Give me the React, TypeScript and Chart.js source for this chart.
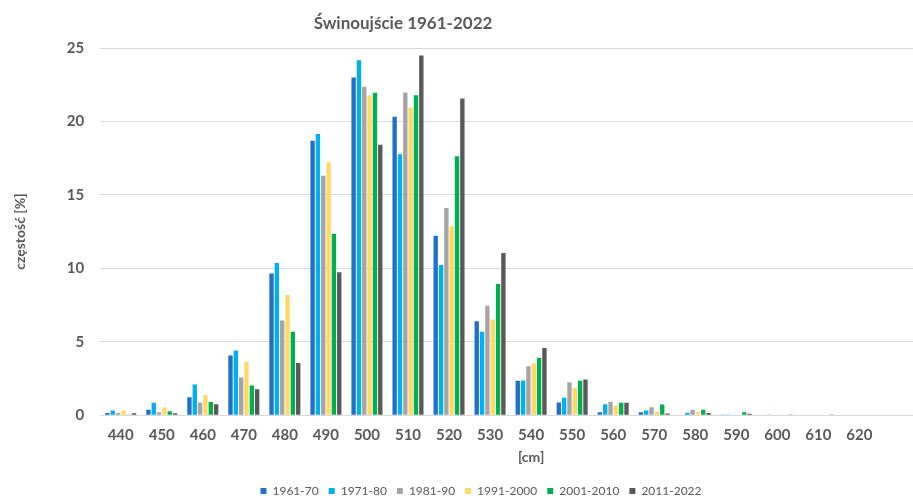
import React, { useEffect, useRef } from "react";
import { Chart, registerables } from "chart.js";

Chart.register(...registerables);

const categories = ["440", "450", "460", "470", "480", "490", "500", "510", "520", "530", "540", "550", "560", "570", "580", "590", "600", "610", "620", "", ""];

const s1961_70 = [0.15, 0.37, 1.22, 4.06, 9.65, 18.68, 23.0, 20.32, 12.22, 6.4, 2.35, 0.86, 0.2, 0.2, 0.03, 0.05, 0.0, 0.0, 0.0, null, null];
const s1971_80 = [0.32, 0.84, 2.09, 4.4, 10.37, 19.14, 24.16, 17.77, 10.22, 5.68, 2.37, 1.18, 0.75, 0.32, 0.16, 0.05, 0.05, 0.0, 0.0, null, null];
const s1981_90 = [0.15, 0.2, 0.86, 2.57, 6.45, 16.3, 22.37, 21.97, 14.1, 7.45, 3.33, 2.24, 0.91, 0.54, 0.37, 0.0, 0.03, 0.0, 0.0, null, null];
const s1991_2000 = [0.3, 0.52, 1.36, 3.62, 8.18, 17.23, 21.76, 20.93, 12.86, 6.52, 3.53, 1.85, 0.66, 0.25, 0.23, 0.0, 0.0, 0.0, 0.0, null, null];
const s2001_2010 = [0.05, 0.27, 0.9, 2.02, 5.69, 12.36, 21.96, 21.79, 17.63, 8.93, 3.91, 2.34, 0.84, 0.73, 0.37, 0.2, 0.0, 0.0, 0.0, null, null];
const s2011_2022 = [0.13, 0.13, 0.74, 1.77, 3.56, 9.74, 18.41, 24.49, 21.57, 11.05, 4.58, 2.43, 0.84, 0.12, 0.15, 0.1, 0.02, 0.02, 0.0, null, null];

const seriesLabels = ["1961-70", "1971-80", "1981-90", "1991-2000", "2001-2010", "2011-2022"];
const seriesValues = [s1961_70, s1971_80, s1981_90, s1991_2000, s2001_2010, s2011_2022];
const seriesColors = ["#1F70C8", "#00B0F0", "#A5A5A5", "#FFD966", "#00B050", "#595959"];

const yTicks = [0, 5, 10, 15, 20, 25];

const titleText = "Świnoujście 1961-2022";
const yTitle = "częstość [%]";
const xTitle = "[cm]";

const FONT = "Lato, 'Open Sans', sans-serif";
const TEXT = "#595959";

const titlePlugin = {
  id: "customTitle",
  afterDraw(chart: any) {
    const ctx = chart.ctx;
    ctx.save();
    ctx.font = `bold 17px ${FONT}`;
    ctx.fillStyle = TEXT;
    ctx.textAlign = "center";
    ctx.textBaseline = "middle";
    ctx.fillText(titleText, 403, 24);
    ctx.restore();
  },
};

export default function App() {
  const ref = useRef<HTMLCanvasElement>(null);

  useEffect(() => {
    if (!ref.current) return;
    const chart = new Chart(ref.current, {
      type: "bar",
      data: {
        labels: categories,
        datasets: seriesValues.map((vals, i) => ({
          label: seriesLabels[i],
          data: vals,
          backgroundColor: seriesColors[i],
          borderWidth: 0,
          categoryPercentage: 0.78,
          barPercentage: 0.82,
        })),
      },
      options: {
        responsive: false,
        animation: false,
        layout: { padding: { top: 48, left: 0, right: 0, bottom: 0 } },
        plugins: {
          title: { display: false },
          tooltip: { enabled: false },
          legend: {
            position: "bottom",
            labels: {
              boxWidth: 6,
              boxHeight: 6,
              padding: 10,
              color: TEXT,
              font: { family: FONT, size: 12 },
            },
          },
        },
        scales: {
          x: {
            grid: { display: false, drawTicks: false },
            border: { display: true, color: "#D9D9D9", width: 1 },
            ticks: {
              color: TEXT,
              padding: 11,
              autoSkip: false,
              maxRotation: 0,
              font: { family: FONT, size: 15, weight: "bold" },
            },
            title: {
              display: true,
              text: xTitle,
              color: TEXT,
              font: { family: FONT, size: 14, weight: "bold" },
              padding: { top: -6, bottom: 9 },
            },
          },
          y: {
            min: 0,
            max: 25,
            afterBuildTicks: (axis: any) => {
              axis.ticks = yTicks.map((v) => ({ value: v }));
            },
            grid: { color: "#D9D9D9", drawTicks: false, lineWidth: 1 },
            border: { display: false },
            ticks: {
              color: TEXT,
              padding: 16,
              font: { family: FONT, size: 15, weight: "bold" },
            },
            title: {
              display: true,
              text: yTitle,
              color: TEXT,
              font: { family: FONT, size: 14, weight: "bold" },
              padding: { top: 12, bottom: 22 },
            },
          },
        },
      },
      plugins: [titlePlugin],
    });
    return () => chart.destroy();
  }, []);

  return (
    <div style={{ position: "fixed", left: 0, top: 0, width: 913, height: 500, overflow: "hidden", background: "#fff" }}>
      <canvas ref={ref} width={962} height={507} style={{ display: "block" }} />
    </div>
  );
}
